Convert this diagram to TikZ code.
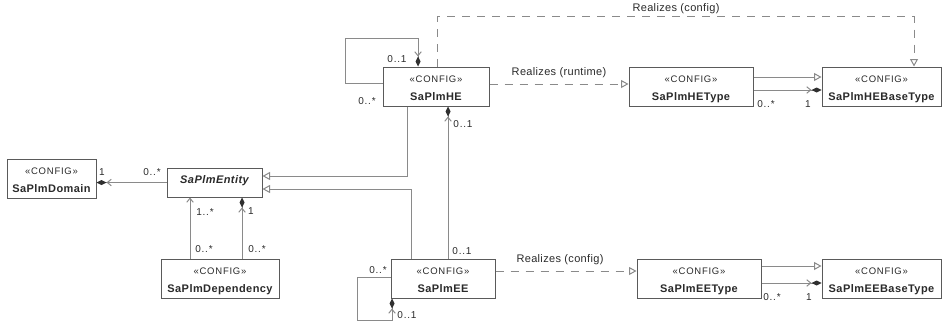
\documentclass[tikz,border=0pt]{standalone}
\usepackage{fontspec}
\setmainfont{Liberation Sans}
\usetikzlibrary{arrows.meta}
\definecolor{linegray}{HTML}{8A8A8A}
\definecolor{boxgray}{HTML}{5A5A5A}
\definecolor{txt}{HTML}{2A2A2A}
\definecolor{tipdark}{HTML}{303030}
\tikzset{
 umlbox/.style={draw=boxgray, line width=1pt, fill=white, minimum height=39pt, inner sep=0pt},
 stereo/.style={anchor=base, text=txt, inner sep=0pt, font=\fontsize{9.5}{10}\selectfont\addfontfeatures{LetterSpace=8}},
 cname/.style={anchor=base, text=txt, inner sep=0pt, font=\fontsize{11}{12}\selectfont\bfseries\addfontfeatures{LetterSpace=4}},
 mult/.style={text=txt, inner sep=0pt, font=\fontsize{10}{11}\selectfont\addfontfeatures{LetterSpace=8}},
 rlab/.style={text=txt, inner sep=0pt, font=\fontsize{11}{12}\selectfont\addfontfeatures{LetterSpace=3}},
 conn/.style={draw=linegray, line width=1pt},
 gen/.style={conn, -{Triangle[open, length=7.5pt, width=8pt, fill=white]}},
 real/.style={gen, dash pattern=on 8pt off 7pt},
 nav/.style={conn, -{Straight Barb[length=4pt, width=6.5pt]}},
 comp/.style={conn, -{Straight Barb[length=4pt, width=6.5pt, sep=0pt] Diamond[length=10pt, width=5pt, color=tipdark, fill=tipdark]}},
}
\newcommand\umlcls[5]{%
 \node[umlbox, minimum width=#4pt] (#1) at (#2,#3) {};
 \node[stereo] (#1s) at ([yshift=-15.5pt]#1.north) {«CONFIG»};
 \node[cname] (#1n) at ([yshift=-34pt]#1.north) {#5};
}
\begin{document}
\begin{tikzpicture}[x=1pt, y=-1pt]
\useasboundingbox (0,0) rectangle (944,324);
% classes
\umlcls{dom}{51.5}{178.5}{89}{SaPlmDomain}
\umlcls{dep}{220}{278.5}{118}{SaPlmDependency}
\umlcls{he}{436}{86.5}{106}{SaPlmHE}
\umlcls{het}{691}{86.5}{124}{SaPlmHEType}
\umlcls{hebt}{881.5}{86.5}{119}{SaPlmHEBaseType}
\umlcls{ee}{443}{278.5}{104}{SaPlmEE}
\umlcls{eet}{699}{278.5}{124}{SaPlmEEType}
\umlcls{eebt}{881.5}{278.5}{119}{SaPlmEEBaseType}
\node[umlbox, minimum width=95pt, minimum height=29pt, text=txt, text height=6pt, text depth=4.4pt,
      font=\fontsize{11}{12}\selectfont\bfseries\itshape\addfontfeatures{LetterSpace=4}] (ent) at (214.5,182.5) {SaPlmEntity};

% Entity -> Domain
\draw[comp] (ent.west) -- (ent.west -| dom.east);
\node[mult] (m1) at (102,172) {1};
\node[mult] (m2) at (152,172) {0..*};

% Dependency -> Entity
\coordinate (dA) at ([xshift=-30pt]dep.north);
\coordinate (dB) at ([xshift=22pt]dep.north);
\draw[nav] (dA) -- (dA |- ent.south);
\draw[comp] (dB) -- (dB |- ent.south);
\node[mult] (m3) at (205,212) {1..*};
\node[mult] (m4) at (204,249) {0..*};
\node[mult] (m5) at (251,211) {1};
\node[mult] (m6) at (257,249) {0..*};

% HE, EE generalize Entity
\coordinate (hA) at ([xshift=-29pt]he.south);
\coordinate (eA) at ([yshift=6.5pt]ent.east);
\draw[gen] (hA) |- (eA);
\coordinate (xA) at ([xshift=-32pt]ee.north);
\coordinate (eB) at ([yshift=-6.5pt]ent.east);
\draw[gen] (xA) |- (eB);

% EE -> HE
\coordinate (xB) at ([xshift=5pt]ee.north);
\draw[comp] (xB) -- (xB |- he.south);
\node[mult] (m7) at (463,124) {0..1};
\node[mult] (m8) at (462,251) {0..1};

% HE self association
\coordinate (hB) at ([yshift=3.5pt]he.west);
\coordinate (hC) at ([xshift=-18pt]he.north);
\draw[comp] (hB) -- ++(-37,0) -- ++(0,-45) -| (hC);
\node[mult] (m9) at (397,59) {0..1};
\node[mult] (m10) at (367,101) {0..*};

% EE self association
\coordinate (xC) at ([yshift=1.5pt]ee.west);
\coordinate (xD) at ([xshift=1.5pt]ee.south west);
\draw[comp] (xC) -- ++(-33,0) -- ++(0,43) -| (xD);
\node[mult] (m11) at (378,270) {0..*};
\node[mult] (m12) at (407,315) {0..1};

% realizations
\draw[real] ([yshift=2.5pt]he.east) -- ([yshift=2.5pt]het.west);
\node[rlab] (r1) at (559,73) {Realizes (runtime)};
\coordinate (hD) at ([xshift=1pt]he.north);
\coordinate (bA) at ([xshift=32.5pt]hebt.north);
\draw[real] (hD) -- ++(0,-50) -| (bA);
\node[rlab] (r2) at (676,9) {Realizes (config)};
\draw[real] ([yshift=7.5pt]ee.east) -- ([yshift=7.5pt]eet.west);
\node[rlab] (r3) at (560,260) {Realizes (config)};

% type -> base type
\draw[gen] ([yshift=9.5pt]het.east) -- ([yshift=9.5pt]hebt.west);
\draw[comp] ([yshift=-3.5pt]het.east) -- ([yshift=-3.5pt]hebt.west);
\node[mult] (m13) at (766,104) {0..*};
\node[mult] (m14) at (808,104) {1};
\draw[gen] ([yshift=12.5pt]eet.east) -- ([yshift=12.5pt]eebt.west);
\draw[comp] ([yshift=-4.5pt]eet.east) -- ([yshift=-4.5pt]eebt.west);
\node[mult] (m15) at (772,297) {0..*};
\node[mult] (m16) at (809,297) {1};
\end{tikzpicture}
\end{document}
